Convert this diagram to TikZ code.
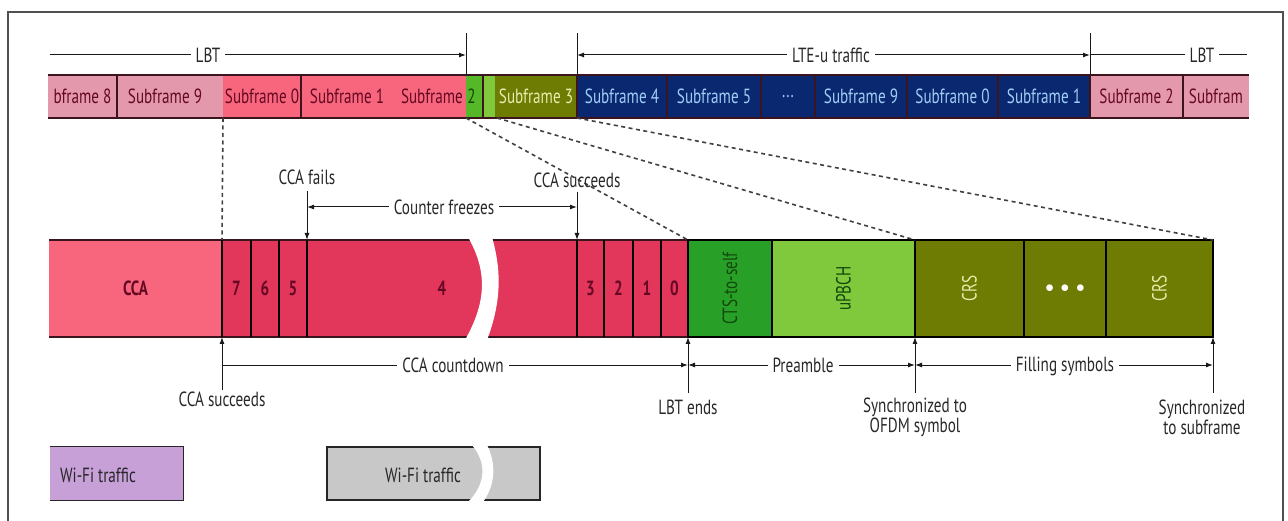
\documentclass[tikz,border=0pt]{standalone}
\usepackage{fontspec}
\setmainfont{PT Sans}[FakeStretch=0.74]
\usetikzlibrary{arrows.meta}
\definecolor{pinkL}{RGB}{228,152,172}
\definecolor{redL}{RGB}{247,102,124}
\definecolor{redD}{RGB}{226,54,90}
\definecolor{greenB}{RGB}{84,184,40}
\definecolor{greenL}{RGB}{128,200,60}
\definecolor{ctsgreen}{RGB}{40,160,40}
\definecolor{olive}{RGB}{110,124,4}
\definecolor{navy}{RGB}{10,40,112}
\definecolor{ltblue}{RGB}{160,205,245}
\definecolor{oltext}{RGB}{232,236,170}
\definecolor{dkred}{RGB}{100,8,36}
\definecolor{dkgreen}{RGB}{18,70,10}
\definecolor{bord}{RGB}{60,20,30}
\definecolor{purp}{RGB}{200,160,216}
\definecolor{grayb}{RGB}{200,200,200}
\definecolor{txt}{RGB}{40,40,40}
\definecolor{framec}{RGB}{80,80,80}
\tikzset{
  lab/.style={font=\fontsize{20.5}{17}\selectfont, text=txt, inner sep=1pt},
  wlab/.style={lab, fill=white, inner xsep=5pt},
  tcell/.style={minimum height=43pt, inner sep=0pt, outer sep=0pt, font=\fontsize{20.5}{17}\selectfont},
  mcell/.style={minimum height=97pt, inner sep=0pt, outer sep=0pt, font=\bfseries\fontsize{20.5}{17}\selectfont, text=dkred},
  gcell/.style={minimum height=97pt, inner sep=0pt, outer sep=0pt, font=\fontsize{20.5}{17}\selectfont},
  arr/.style={-{Latex[length=7pt,width=5pt]}},
  arrs/.style={{Latex[length=7pt,width=5pt]}-{Latex[length=7pt,width=5pt]}},
  thinln/.style={line width=1pt, draw=black!90},
  dashln/.style={line width=1.6pt, black!75, dash pattern=on 4pt off 3.5pt},
}
\begin{document}
\begin{tikzpicture}[x=1pt,y=-1pt]
\useasboundingbox (0,0) rectangle (1288,521);
% frame
\draw[framec, line width=1.3pt] (8,530) -- (8,12) -- (1283,12) -- (1283,530);

% ---------- top bar ----------
\node[tcell, fill=pinkL, minimum width=69pt, text=dkred] (t1) at (82.5,96.5) {bframe 8};
\node[tcell, fill=pinkL, minimum width=106.5pt, text=dkred] (t2) at (170.25,96.5) {};
\node[lab, text=dkred, inner sep=0pt] (t2t) at (165,96.5) {Subframe 9};
\node[tcell, fill=redL, minimum width=78pt, text=dkred] (t3) at (262,96.5) {Subframe 0};
\node[tcell, fill=redL, minimum width=92pt, text=dkred] (t4) at (347,96.5) {Subframe 1};
\node[tcell, fill=redL, minimum width=73pt] (t5) at (429.5,96.5) {};
\node[tcell, fill=greenB, minimum width=17pt] (t6) at (474.5,96.5) {};
\node[tcell, fill=greenL, minimum width=12pt] (t7) at (489,96.5) {};
\node[tcell, fill=olive, minimum width=82pt, text=oltext] (t8) at (536,96.5) {Subframe 3};
\node[tcell, fill=navy, minimum width=90pt, text=ltblue] (t9) at (622,96.5) {Subframe 4};
\node[tcell, fill=navy, minimum width=94pt, text=ltblue] (t10) at (714,96.5) {Subframe 5};
\node[tcell, fill=navy, minimum width=54pt, text=ltblue] (t11) at (788,96.5) {...};
\node[tcell, fill=navy, minimum width=92pt, text=ltblue] (t12) at (861,96.5) {Subframe 9};
\node[tcell, fill=navy, minimum width=91pt, text=ltblue] (t13) at (952.5,96.5) {Subframe 0};
\node[tcell, fill=navy, minimum width=92pt, text=ltblue] (t14) at (1044,96.5) {Subframe 1};
\node[tcell, fill=pinkL, minimum width=93pt, text=dkred] (t15) at (1136.5,96.5) {Subframe 2};
\node[tcell, fill=pinkL, minimum width=66pt, text=dkred] (t16) at (1216,96.5) {Subfram};
\node[lab, anchor=east, text=dkred, inner sep=0pt] (s2a) at (463,96.5) {Subframe};
\node[lab, text=dkgreen, inner sep=0pt] (s2b) at (471.5,96.5) {2};
% top bar borders
\draw[bord, line width=1.3pt] (t1.north west) -- (t16.north east);
\draw[bord, line width=1.3pt] (t1.south west) -- (t16.south east);
\foreach \n in {t1,t3,t6,t8,t9,t10,t11,t12,t13,t14,t15}
  \draw[bord, line width=1.2pt] (\n.north east) -- (\n.south east);

% top annotations
\coordinate (k1) at (466,33);
\coordinate (k2) at (577,33);
\coordinate (k3) at (1090,33);
\draw[thinln] (k1) -- (t5.north east);
\draw[thinln] (k2) -- (t8.north east);
\draw[thinln] (k3) -- (t14.north east);
\coordinate (a0) at (50,55);
\coordinate (a1) at (466,55);
\coordinate (a2) at (577,55);
\coordinate (a3) at (1090,55);
\coordinate (a4) at (1247,55);
\draw[thinln, arr] (a0) -- (a1);
\node[wlab] (lbt1) at (208,55) {LBT};
\draw[thinln, arrs] (a2) -- (a3);
\node[wlab] (lte) at (831,55) {LTE-u traffic};
\draw[thinln] (a3) -- (a4);
\node[wlab] (lbt2) at (1202,55) {LBT};

% ---------- middle bar ----------
\node[mcell, fill=redL, minimum width=173pt] (cca) at (135.5,288.5) {CCA};
\node[mcell, fill=redD, minimum width=29pt] (s7) at (236.5,288.5) {7};
\node[mcell, fill=redD, minimum width=28pt] (s6) at (265,288.5) {6};
\node[mcell, fill=redD, minimum width=28pt] (s5) at (293,288.5) {5};
\node[mcell, fill=redD, minimum width=270pt] (s4) at (442,288.5) {};
\node[mcell, fill=redD, minimum width=27pt] (s3) at (590.5,288.5) {3};
\node[mcell, fill=redD, minimum width=29pt] (s2) at (618.5,288.5) {2};
\node[mcell, fill=redD, minimum width=28pt] (s1) at (647,288.5) {1};
\node[mcell, fill=redD, minimum width=27pt] (s0) at (674.5,288.5) {0};
\node[mcell, inner sep=0pt] (four) at (442,288.5) {4};
\draw[bord, line width=1.2pt] (cca.north west) -- (s0.north east);
\draw[bord, line width=1.2pt] (cca.south west) -- (s0.south east);
\foreach \n in {cca,s7,s6,s5,s4,s3,s2,s1}
  \draw[black, line width=1.2pt] (\n.north east) -- (\n.south east);
% break
\fill[white] (468,237) .. controls (488,272) and (486,303) .. (465,340)
  -- (487,340) .. controls (501,303) and (502,272) .. (492,237) -- cycle;

\node[gcell, fill=ctsgreen, minimum width=84pt] (cts) at (730,288.5) {};
\node[gcell, fill=greenL, minimum width=143pt] (pbch) at (843.5,288.5) {};
\node[gcell, fill=olive, minimum width=109pt] (crs1) at (969.5,288.5) {};
\node[gcell, fill=olive, minimum width=82pt] (dots) at (1065,288.5) {};
\node[gcell, fill=olive, minimum width=107pt] (crs2) at (1159.5,288.5) {};
\node[lab, rotate=90, text=dkgreen] (ctst) at (cts) {CTS-to-self};
\node[lab, rotate=90, text=dkgreen] (pbcht) at (pbch) {uPBCH};
\node[lab, rotate=90, text=oltext] (crst1) at (crs1) {CRS};
\node[lab, rotate=90, text=oltext] (crst2) at (crs2) {CRS};
\node[lab, text=white, font=\fontsize{16}{16}\selectfont] (dott) at (dots) {$\bullet\,\bullet\,\bullet$};
\draw[black, line width=2.6pt] (cts.north west) rectangle (crs2.south east);
\foreach \n in {cts,pbch,crs1,dots}
  \draw[black, line width=2.6pt] (\n.north east) -- (\n.south east);

% dashed projections
\coordinate (d1) at (223,118);
\coordinate (d2) at (497,118);
\draw[dashln] (d1) -- (s7.north west);
\draw[dashln] (t6.south west) -- (cts.north west);
\draw[dashln] (d2) -- (crs1.north west);
\draw[dashln] (t9.south west) -- (crs2.north east);

% above middle bar
\node[lab] (fails) at (307,177) {CCA fails};
\node[lab] (succ1) at (577,180) {CCA succeeds};
\coordinate (v1) at (307,191);
\coordinate (v2) at (577,192);
\draw[thinln, arr] (v1) -- (s5.north east);
\draw[thinln, arr] (v2) -- (s4.north east);
\coordinate (f0) at (307,207);
\coordinate (f1) at (577,207);
\draw[thinln, arrs] (f0) -- (f1);
\node[wlab] (freeze) at (444,207) {Counter freezes};

% below middle bar
\coordinate (u1) at (222,390);
\coordinate (u2) at (688,393);
\coordinate (u3) at (915,393);
\coordinate (u4) at (1213,393);
\draw[thinln, arr] (u1) -- (cca.south east);
\draw[thinln, arr] (u2) -- (s0.south east);
\draw[thinln, arr] (u3) -- (pbch.south east);
\draw[thinln, arr] (u4) -- (crs2.south east);
\coordinate (c0) at (222,365);
\coordinate (c1) at (688,365);
\coordinate (c2) at (915,365);
\coordinate (c3) at (1213,365);
\draw[thinln, arr] (c0) -- (c1);
\draw[thinln, arrs] (c1) -- (c2);
\draw[thinln, arrs] (c2) -- (c3);
\node[wlab] (cd) at (453,365) {CCA countdown};
\node[wlab] (pre) at (803,365) {Preamble};
\node[wlab] (fillsym) at (1065,366) {Filling symbols};
\node[lab] (succ2) at (222,399) {CCA succeeds};
\node[lab] (ends) at (688,407) {LBT ends};
\node[lab, align=center] (sync1) at (915,417) {Synchronized to\\OFDM symbol};
\node[lab, align=center] (sync2) at (1202,417) {Synchronized\\to subframe};

% ---------- bottom boxes ----------
\node[minimum width=133pt, minimum height=53pt, inner sep=0pt, fill=purp] (wifi1) at (116.5,473.5) {};
\draw[black!85, line width=1.3pt] (wifi1.north west) -- (wifi1.north east) -- (wifi1.south east) -- (wifi1.south west);
\node[lab, text=black!85] (wt1) at (98,475) {Wi-Fi traffic};
\node[minimum width=213pt, minimum height=53pt, inner sep=0pt, fill=grayb, draw=black!85, line width=1.3pt] (wifi2) at (433.5,473.5) {};
\fill[white] (472,445) .. controls (487,463) and (486,484) .. (468,502)
  -- (483,502) .. controls (496,484) and (496,463) .. (487,445) -- cycle;
\node[lab, text=black!85] (wt2) at (423,475) {Wi-Fi traffic};
\end{tikzpicture}
\end{document}
